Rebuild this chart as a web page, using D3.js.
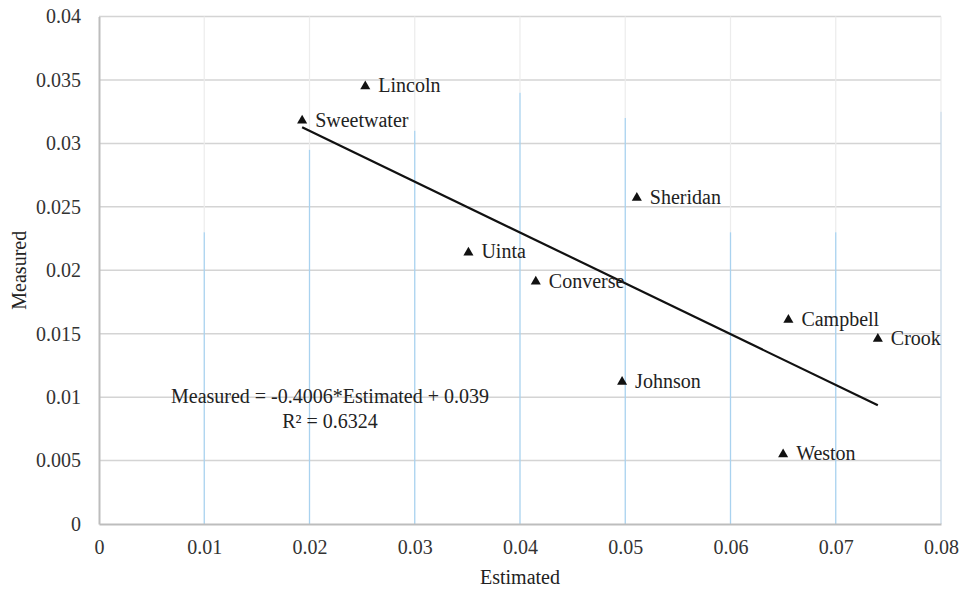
<!DOCTYPE html>
<html>
<head>
<meta charset="utf-8">
<script src="https://cdn.jsdelivr.net/npm/d3@7"></script>
<style>
body { margin: 0; background: #fff; }
</style>
</head>
<body>
<div id="chart"></div>
<script>
// county values
var counties = ["Lincoln", "Sweetwater", "Sheridan", "Uinta", "Converse", "Campbell", "Crook", "Johnson", "Weston"];
var estimated = [0.0253, 0.0193, 0.0511, 0.0351, 0.0415, 0.0655, 0.0740, 0.0497, 0.0650];
var measured = [0.0345, 0.0318, 0.0257, 0.0214, 0.0191, 0.0161, 0.0146, 0.0112, 0.0055];
var xTicks = [0, 0.01, 0.02, 0.03, 0.04, 0.05, 0.06, 0.07, 0.08];
var yTicks = [0, 0.005, 0.01, 0.015, 0.02, 0.025, 0.03, 0.035, 0.04];
var slope = -0.4006, intercept = 0.039, r2 = 0.6324;
// how far up the blue part of each vertical grid line goes (scan artefact)
var blueTop = [null, 0.0230, 0.0295, 0.0310, 0.0340, 0.0320, 0.0230, 0.0230, 0.0325];

var width = 962, height = 591;
var margin = {left: 99, right: 21, top: 16.5, bottom: 67};
var serif = "Liberation Serif";

var svg = d3.select("#chart").append("svg")
	.attr("width", width)
	.attr("height", height);

var x = d3.scaleLinear().domain([0, 0.08]).range([margin.left, width - margin.right]);
var y = d3.scaleLinear().domain([0, 0.04]).range([height - margin.bottom, margin.top]);

//horizontal grid
svg.append("g").selectAll("line").data(yTicks.slice(1)).enter().append("line")
	.attr("x1", x(0)).attr("x2", x(0.08))
	.attr("y1", function (d) { return y(d); })
	.attr("y2", function (d) { return y(d); })
	.style("stroke", "#d4d4d4")
	.style("stroke-width", 1.5);

//vertical grid, faint top + blue lower part
var vg = svg.append("g");
xTicks.forEach(function (t, i) {
	if (i == 0) return;
	vg.append("line")
		.attr("x1", x(t)).attr("x2", x(t))
		.attr("y1", y(0.04)).attr("y2", y(blueTop[i]))
		.style("stroke", "#ececec")
		.style("stroke-width", 1.2);
	vg.append("line")
		.attr("x1", x(t)).attr("x2", x(t))
		.attr("y1", y(blueTop[i])).attr("y2", y(0))
		.style("stroke", i == 8 ? "#c9d9e6" : "#a9d2ef")
		.style("stroke-width", 1.3);
});

//axes
var xAxis = svg.append("g")
	.attr("transform", "translate(0," + y(0) + ")")
	.call(d3.axisBottom(x).tickValues(xTicks).tickSize(0).tickPadding(16).tickFormat(function (d) { return d; }));
var yAxis = svg.append("g")
	.attr("transform", "translate(" + x(0) + ",0)")
	.call(d3.axisLeft(y).tickValues(yTicks).tickSize(0).tickPadding(18).tickFormat(function (d) { return d; }));
[xAxis, yAxis].forEach(function (a) {
	a.attr("font-family", null).attr("font-size", null);
	a.select(".domain").style("stroke", "#bdbdbd").style("stroke-width", 2);
	a.selectAll("text")
		.attr("font-family", serif)
		.attr("font-size", 20)
		.attr("fill", "#333");
});

svg.append("text")
	.attr("x", x(0.04)).attr("y", 584)
	.attr("text-anchor", "middle")
	.attr("font-family", serif)
	.attr("font-size", 20)
	.attr("fill", "#222")
	.text("Estimated");
svg.append("text")
	.attr("transform", "translate(26," + y(0.02) + ") rotate(-90)")
	.attr("text-anchor", "middle")
	.attr("font-family", serif)
	.attr("font-size", 20)
	.attr("fill", "#222")
	.text("Measured");

//trend line over the range of the data
var xMin = d3.min(estimated), xMax = d3.max(estimated);
svg.append("line")
	.attr("x1", x(xMin)).attr("y1", y(slope * xMin + intercept))
	.attr("x2", x(xMax)).attr("y2", y(slope * xMax + intercept))
	.style("stroke", "#111")
	.style("stroke-width", 2.2);

//points
var tri = d3.symbol().type(d3.symbolTriangle).size(44);
var pts = svg.append("g").selectAll("g").data(counties).enter().append("g")
	.attr("transform", function (d, i) { return "translate(" + x(estimated[i]) + "," + y(measured[i]) + ")"; });
pts.append("path").attr("d", tri).style("fill", "#111");
pts.append("text")
	.attr("x", 13).attr("y", 6)
	.attr("font-family", serif)
	.attr("font-size", 20)
	.attr("fill", "#222")
	.text(function (d) { return d; });

//equation
svg.append("text")
	.attr("x", 330).attr("y", 403)
	.attr("text-anchor", "middle")
	.attr("font-family", serif)
	.attr("font-size", 20)
	.attr("fill", "#222")
	.text("Measured = " + slope + "*Estimated + " + intercept);
svg.append("text")
	.attr("x", 330).attr("y", 428)
	.attr("text-anchor", "middle")
	.attr("font-family", serif)
	.attr("font-size", 20)
	.attr("fill", "#222")
	.text("R² = " + r2);
</script>
</body>
</html>
